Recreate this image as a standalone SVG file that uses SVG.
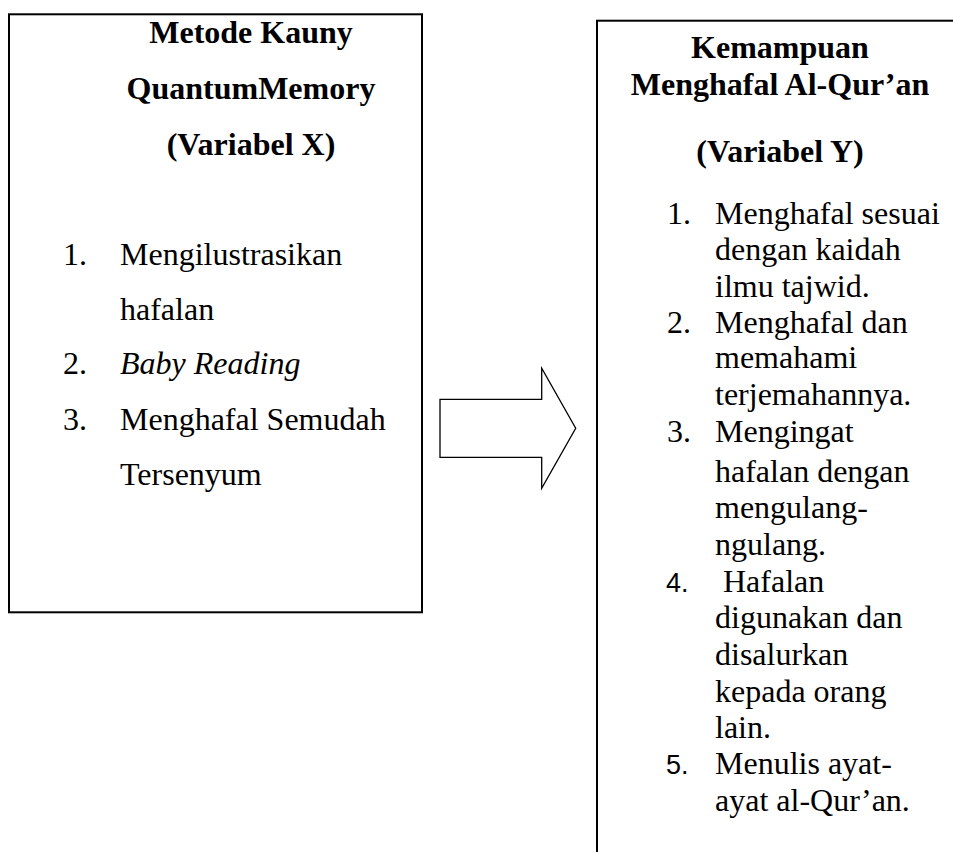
<svg xmlns="http://www.w3.org/2000/svg" width="953" height="852" viewBox="0 0 953 852">
<style>
.box{fill:#fff;stroke:#000;stroke-width:2}
.arrow{fill:#fff;stroke:#000;stroke-width:1.3;stroke-linejoin:miter}
text{font-family:"Liberation Serif","Times New Roman",serif;font-size:32px;fill:#000}
.h{font-weight:bold;text-anchor:middle}
.it{font-style:italic}
.sans{font-family:"Liberation Sans",Arial,sans-serif;font-size:27px}
</style>
<rect width="953" height="852" fill="#fff"/>
<g id="node-x">
<rect class="box" x="9" y="14.3" width="413" height="598"/>
<text class="h" x="251" y="43">Metode Kauny</text>
<text class="h" x="251" y="99">QuantumMemory</text>
<text class="h" x="251" y="155">(Variabel X)</text>
<text x="63" y="265">1.</text><text x="120" y="265">Mengilustrasikan</text>
<text x="120" y="320">hafalan</text>
<text x="63" y="374">2.</text><text class="it" x="120" y="374">Baby Reading</text>
<text x="63" y="430">3.</text><text x="120" y="430">Menghafal Semudah</text>
<text x="120" y="485">Tersenyum</text>
</g>
<g id="connectors">
<path class="arrow" d="M440,399.3 H541.7 V368.3 L575.7,428.3 L541.7,488.3 V457.3 H440 Z"/>
</g>
<g id="node-y">
<rect class="box" x="597" y="20.7" width="380" height="860"/>
<text class="h" x="780" y="58">Kemampuan</text>
<text class="h" x="780" y="95">Menghafal Al-Qur’an</text>
<text class="h" x="780" y="161.7">(Variabel Y)</text>
<text x="667" y="224.3">1.</text><text x="715" y="224.3">Menghafal sesuai</text>
<text x="715" y="260">dengan kaidah</text>
<text x="715" y="296.7">ilmu tajwid.</text>
<text x="667" y="333">2.</text><text x="715" y="333">Menghafal dan</text>
<text x="715" y="368">memahami</text>
<text x="715" y="405">terjemahannya.</text>
<text x="667" y="441.7">3.</text><text x="715" y="441.7">Mengingat</text>
<text x="715" y="481.7">hafalan dengan</text>
<text x="715" y="518">mengulang-</text>
<text x="715" y="555">ngulang.</text>
<text class="sans" x="666" y="591.7">4.</text><text x="723" y="591.7">Hafalan</text>
<text x="715" y="628">digunakan dan</text>
<text x="715" y="665">disalurkan</text>
<text x="715" y="701.7">kepada orang</text>
<text x="715" y="737.7">lain.</text>
<text class="sans" x="666" y="774.3">5.</text><text x="715" y="774.3">Menulis ayat-</text>
<text x="715" y="811">ayat al-Qur’an.</text>
</g>
</svg>
